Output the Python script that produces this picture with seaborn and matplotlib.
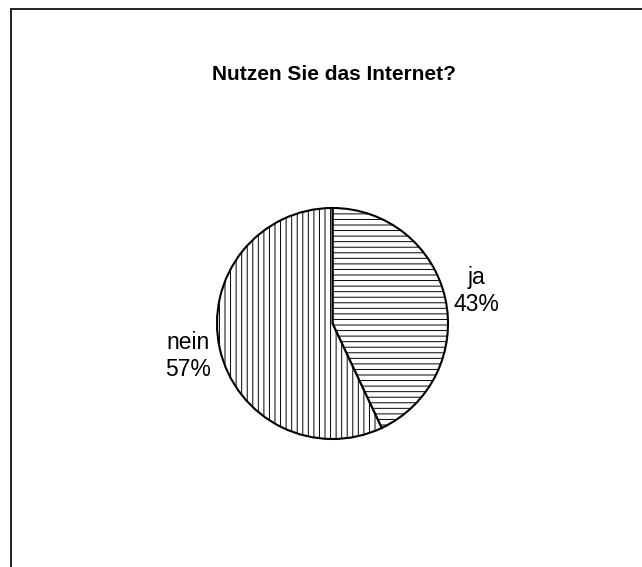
import matplotlib
matplotlib.use("Agg")
import matplotlib.pyplot as plt
import seaborn as sns
from matplotlib.patches import Rectangle

title = "Nutzen Sie das Internet?"
categories = ["ja", "nein"]
values = [43, 57]
hatches = ["---", "|||"]

sns.set_theme(style="white")
plt.rcParams["font.family"] = ["Liberation Sans", "DejaVu Sans"]
plt.rcParams["hatch.linewidth"] = 0.7
plt.rcParams["hatch.color"] = "black"

W, H = 642, 567
fig = plt.figure(figsize=(W / 100, H / 100), dpi=100)
fig.patch.set_facecolor("white")

# outer frame (cropped at right/bottom)
fig.patches.append(Rectangle((11.5 / W, -0.1), 1.2, 1 - 9 / H + 0.1,
                             transform=fig.transFigure, fill=False,
                             edgecolor="#222222", linewidth=1.4))

cx, cy, r = 332.5, 323.5, 115.5
ax = fig.add_axes([(cx - r) / W, 1 - (cy + r) / H, 2 * r / W, 2 * r / H])
labels = [f"{c}\n{v}%" for c, v in zip(categories, values)]
wedges, texts = ax.pie(values, labels=labels, startangle=90, counterclock=False,
                       labeldistance=1.28, radius=1,
                       colors=["white", "white"],
                       wedgeprops=dict(edgecolor="black", linewidth=1.5),
                       textprops=dict(ha="center", va="center", fontsize=16.5,
                                      multialignment="center", color="black",
                                      linespacing=1.25))
for w, h in zip(wedges, hatches):
    w.set_hatch(h)
ax.set_xlim(-1, 1)
ax.set_ylim(-1, 1)
ax.set_aspect("auto")
ax.axis("off")

fig.text(334.5 / W, 1 - 80 / H, title, ha="center", va="baseline",
         fontsize=15, fontweight="bold", color="black")

fig.savefig("out.png", dpi=100, facecolor="white")
